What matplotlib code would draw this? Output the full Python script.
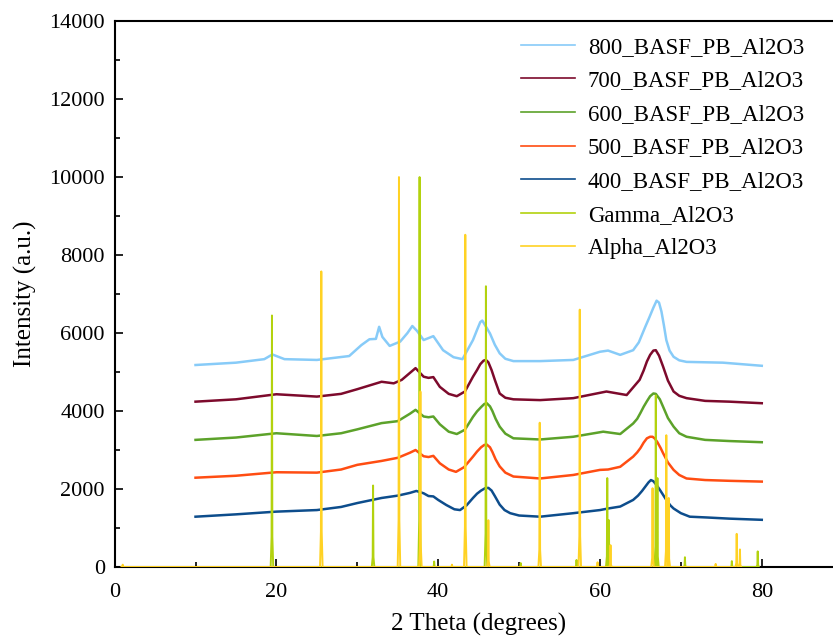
import numpy as np
import matplotlib
matplotlib.use("Agg")
import matplotlib.pyplot as plt

plt.rcParams['font.family'] = ['Liberation Serif', 'DejaVu Serif']

# ---- measured patterns (2 theta, intensity) ----
x400 = [10, 15, 20, 25, 28, 30, 33, 35, 36.5, 37.3, 38.2, 38.8, 39.4, 40, 41, 42, 42.7, 43.5, 44.3, 44.8,
        45.3, 45.8, 46.2, 46.6, 47.0, 47.6, 48.2, 48.9, 50, 52.6, 56.7, 60, 61, 62.5, 64.1, 64.7, 65.2, 65.6,
        66.0, 66.3, 66.6, 67.0, 67.4, 67.8, 68.2, 68.7, 69.1, 70, 71.1, 73.2, 76, 80]
y400 = [1290, 1350, 1420, 1460, 1540, 1640, 1770, 1830, 1900, 1950, 1890, 1820, 1810, 1720, 1590, 1480, 1460,
        1580, 1770, 1880, 1960, 2020, 2030, 1960, 1820, 1600, 1460, 1380, 1320, 1290, 1380, 1460, 1500, 1550,
        1720, 1830, 1950, 2060, 2170, 2230, 2200, 2100, 1980, 1850, 1720, 1580, 1500, 1380, 1290, 1270, 1240,
        1210]

x500 = [10, 15, 20, 25, 28, 30, 33, 35, 36.5, 37.2, 38.2, 38.8, 39.4, 40.2, 41.3, 42.2, 43.2, 44.3, 44.8,
        45.3, 45.7, 46.0, 46.4, 46.7, 47.1, 47.6, 48.3, 49.3, 52.6, 56.7, 60, 61, 62.5, 64.1, 64.6, 65, 65.4,
        65.8, 66.2, 66.5, 66.8, 67.1, 67.5, 67.8, 68.4, 69.1, 69.8, 70.7, 73, 76, 80]
y500 = [2290, 2340, 2430, 2420, 2500, 2620, 2720, 2800, 2930, 3000, 2840, 2820, 2850, 2660, 2500, 2440, 2560,
        2830, 2960, 3070, 3130, 3140, 3070, 2950, 2760, 2580, 2420, 2320, 2270, 2360, 2490, 2500, 2570, 2830,
        2940, 3050, 3190, 3300, 3340, 3340, 3290, 3200, 3050, 2920, 2680, 2490, 2360, 2270, 2230, 2210, 2190]

x600 = [10, 15, 20, 25, 28, 30, 33, 35, 36.5, 37.2, 38.2, 38.8, 39.4, 40.2, 41.3, 42.3, 43.3, 44.3, 44.8,
        45.3, 45.7, 46.0, 46.4, 46.7, 47.1, 47.6, 48.3, 49.3, 52.6, 56.7, 60.4, 62.5, 64.1, 64.6, 65, 65.4,
        65.8, 66.2, 66.6, 66.9, 67.4, 67.8, 68.4, 69.1, 69.8, 70.7, 73, 76, 80]
y600 = [3260, 3320, 3430, 3360, 3430, 3530, 3690, 3740, 3930, 4030, 3860, 3840, 3860, 3660, 3470, 3410, 3520,
        3850, 3990, 4100, 4180, 4200, 4120, 4000, 3800, 3600, 3420, 3300, 3270, 3340, 3470, 3410, 3680, 3800,
        3950, 4110, 4250, 4380, 4450, 4440, 4300, 4110, 3820, 3600, 3430, 3340, 3260, 3230, 3200]

x700 = [10, 15, 20, 25, 28, 30, 33, 34.5, 35.5, 37.2, 38.2, 38.8, 39.4, 40.2, 41.3, 42.3, 43.3, 44.3, 44.8,
        45.2, 45.6, 45.9, 46.2, 46.6, 47.0, 47.6, 48.3, 49.3, 52.6, 56.7, 60.8, 63.3, 64.9, 65.4, 65.8, 66.2,
        66.6, 66.9, 67.3, 67.8, 68.4, 69.1, 69.8, 70.7, 73, 76, 80]
y700 = [4240, 4300, 4430, 4370, 4440, 4560, 4750, 4710, 4800, 5100, 4880, 4850, 4870, 4620, 4440, 4380, 4500,
        4880, 5050, 5200, 5290, 5310, 5250, 5050, 4800, 4450, 4340, 4300, 4280, 4330, 4500, 4410, 4800, 5040,
        5270, 5440, 5550, 5560, 5420, 5140, 4780, 4500, 4390, 4330, 4260, 4240, 4200]

x800 = [10, 15, 18.5, 19.5, 21, 25, 29, 30.5, 31.5, 32.3, 32.7, 33.1, 34.0, 35.3, 36.2, 36.8, 37.4, 38.2,
        39.4, 40.6, 41.9, 43.0, 44.3, 44.8, 45.2, 45.45, 45.8, 46.4, 47.0, 47.6, 48.3, 49.3, 52.6, 56.7, 60.0,
        61, 62.5, 64.1, 64.8, 65.6, 66.1, 66.6, 67.0, 67.3, 67.6, 67.9, 68.2, 68.6, 69.1, 69.8, 70.7, 75.2, 80]
y800 = [5180, 5240, 5330, 5450, 5330, 5310, 5410, 5690, 5840, 5850, 6160, 5900, 5670, 5780, 6000, 6180, 6050,
        5820, 5920, 5560, 5380, 5330, 5820, 6080, 6280, 6320, 6200, 5990, 5700, 5480, 5340, 5280, 5280, 5310,
        5520, 5550, 5440, 5560, 5760, 6160, 6400, 6650, 6830, 6780, 6550, 6200, 5820, 5550, 5390, 5300, 5260,
        5240, 5160]

# ---- reference stick patterns ----
gamma_pos = [19.45, 31.95, 37.7, 39.5, 45.9, 50.2, 57.1, 60.9, 61.1, 66.9, 67.1, 70.5, 76.3, 79.5]
gamma_int = [6450, 2090, 10000, 140, 7200, 100, 180, 2280, 1200, 4400, 2280, 250, 150, 400]

alpha_pos = [1.0, 25.55, 35.15, 37.8, 41.7, 43.35, 46.2, 52.55, 57.5, 59.7, 61.3, 66.5, 68.2, 68.5, 74.3, 76.9, 77.3]
alpha_int = [60, 7580, 10000, 4500, 60, 8520, 1200, 3700, 6600, 120, 560, 2020, 3380, 1770, 80, 850, 450]

series = [
    ("800_BASF_PB_Al2O3", x800, y800, "#87cbf8"),
    ("700_BASF_PB_Al2O3", x700, y700, "#7d0a2c"),
    ("600_BASF_PB_Al2O3", x600, y600, "#5ca22a"),
    ("500_BASF_PB_Al2O3", x500, y500, "#ff4d12"),
    ("400_BASF_PB_Al2O3", x400, y400, "#0d4d8c"),
]

fig = plt.figure(figsize=(8.33, 6.37), dpi=100)
ax = fig.add_axes([0.1376, 0.1099, 0.874, 0.857])

for label, xs, ys, c in series:
    ax.plot(xs, ys, color=c, lw=1.8, label=label, zorder=2)


def stick_trace(pos, hgt, w=0.16):
    xs, ys = [], []
    for p, h in sorted(zip(pos, hgt)):
        xs += [p - w, p - w * 0.3, p, p + w * 0.3, p + w]
        ys += [0, h * 0.12, h, h * 0.12, 0]
    return xs, ys


gx, gy = stick_trace(gamma_pos, gamma_int)
axx, axy = stick_trace(alpha_pos, alpha_int)
ax.plot(gx, gy, color="#b3d20e", lw=1.4, label="Gamma_Al2O3", zorder=3)
ax.plot(axx, axy, color="#ffd224", lw=1.4, label="Alpha_Al2O3", zorder=3)

ax.set_xlim(0, 90)
ax.set_ylim(0, 14000)
ax.set_xticks([0, 20, 40, 60, 80])
ax.set_xticks([10, 30, 50, 70], minor=True)
ax.set_yticks(np.arange(0, 14001, 2000))
ax.set_yticks(np.arange(1000, 14000, 2000), minor=True)
ax.tick_params(which='both', direction='in', top=False, right=False, width=1.2, labelsize=16)
ax.tick_params(which='major', length=6)
ax.tick_params(which='minor', length=3.5)
ax.tick_params(axis='x', pad=11.5)
ax.tick_params(axis='y', pad=7)
for s in ax.spines.values():
    s.set_linewidth(1.5)

ax.set_xlabel("2 Theta (degrees)", fontsize=18, labelpad=8)
ax.set_ylabel("Intensity (a.u.)", fontsize=18, labelpad=9)

leg = ax.legend(loc='upper right', bbox_to_anchor=(0.99, 0.975), bbox_transform=fig.transFigure,
                frameon=False, fontsize=16.5, labelspacing=0.55, handlelength=2.36, handletextpad=0.57)
for l in leg.get_lines():
    l.set_linewidth(1.2)

fig.savefig("out.png", dpi=100)
